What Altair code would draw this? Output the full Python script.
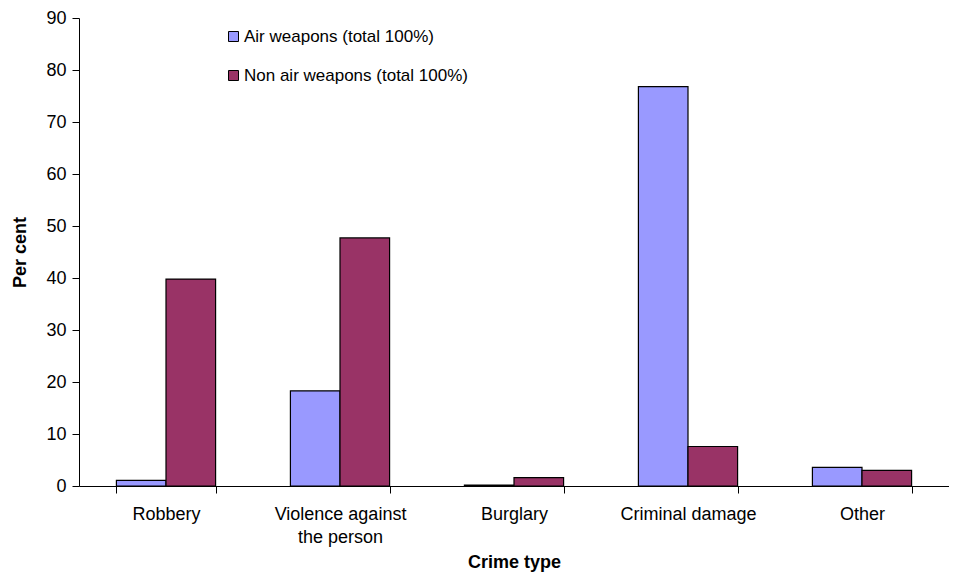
import altair as alt
import pandas as pd

categories = ["Robbery", "Violence against the person", "Burglary", "Criminal damage", "Other"]
series = ["Air weapons (total 100%)", "Non air weapons (total 100%)"]
air_values = [1.1, 18.3, 0.15, 76.8, 3.6]
non_air_values = [39.8, 47.7, 1.6, 7.6, 3.0]
colors = ["#9999FF", "#993366"]
y_ticks = [0, 10, 20, 30, 40, 50, 60, 70, 80, 90]

rows = []
for c, a, n in zip(categories, air_values, non_air_values):
    rows.append({"Crime type": c, "Series": series[0], "Per cent": a})
    rows.append({"Crime type": c, "Series": series[1], "Per cent": n})
df = pd.DataFrame(rows)

FONT = "Liberation Sans"

chart = alt.Chart(df).mark_bar(stroke="black", strokeWidth=1.2).encode(
    x=alt.X(
        "Crime type:N",
        sort=categories,
        scale=alt.Scale(paddingInner=0.43, paddingOuter=0.215),
        axis=alt.Axis(
            title="Crime type",
            labelAngle=0,
            labelFontSize=18,
            labelFont=FONT,
            labelColor="black",
            labelLineHeight=23,
            labelPadding=12,
            labelExpr="datum.label == 'Violence against the person' ? ['Violence against', 'the person'] : datum.label",
            tickBand="extent",
            tickSize=7,
            tickColor="black",
            domainColor="black",
            titleFontSize=18,
            titleFont=FONT,
            titleFontWeight="bold",
            titleColor="black",
            titleY=81,
            titleBaseline="alphabetic",
        ),
    ),
    xOffset=alt.XOffset("Series:N", sort=series),
    y=alt.Y(
        "Per cent:Q",
        scale=alt.Scale(domain=[0, 90], nice=False),
        axis=alt.Axis(
            title="Per cent",
            values=y_ticks,
            grid=False,
            labelFontSize=18,
            labelFont=FONT,
            labelColor="black",
            labelPadding=6,
            tickSize=7,
            tickColor="black",
            domainColor="black",
            titleFontSize=18,
            titleFont=FONT,
            titleFontWeight="bold",
            titleColor="black",
            titleX=-54,
            titleBaseline="alphabetic",
        ),
    ),
    color=alt.Color(
        "Series:N",
        sort=series,
        scale=alt.Scale(domain=series, range=colors),
        legend=alt.Legend(
            title=None,
            orient="none",
            legendX=146,
            legendY=10,
            symbolType="square",
            symbolSize=100,
            symbolStrokeColor="black",
            symbolStrokeWidth=1,
            symbolOpacity=1,
            labelFontSize=17,
            labelFont=FONT,
            labelColor="black",
            labelOffset=2,
            labelLimit=0,
            rowPadding=21,
            padding=0,
        ),
    ),
).properties(
    width=870,
    height=468,
    autosize=alt.AutoSizeParams(type="none"),
    padding={"left": 71, "top": 10, "right": 0, "bottom": 86},
).configure_view(stroke=None).configure_axis(domainWidth=1, tickWidth=1)

chart.save("out.html", embed_options={"renderer": "svg", "actions": False})
